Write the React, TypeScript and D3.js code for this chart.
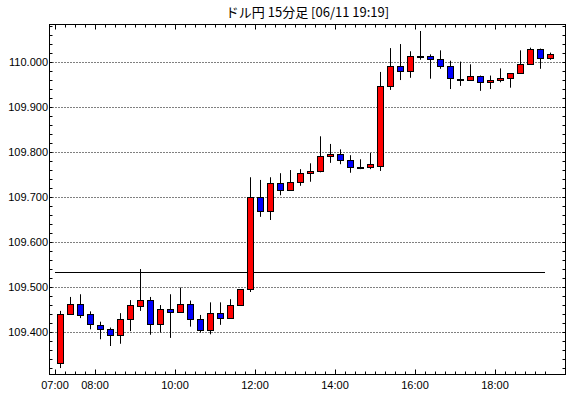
import * as d3 from 'd3';

const times = [
  '07:00', '07:15', '07:30', '07:45', '08:00', '08:15', '08:30', '08:45', '09:00', '09:15',
  '09:30', '09:45', '10:00', '10:15', '10:30', '10:45', '11:00', '11:15', '11:30', '11:45',
  '12:00', '12:15', '12:30', '12:45', '13:00', '13:15', '13:30', '13:45', '14:00', '14:15',
  '14:30', '14:45', '15:00', '15:15', '15:30', '15:45', '16:00', '16:15', '16:30', '16:45',
  '17:00', '17:15', '17:30', '17:45', '18:00', '18:15', '18:30', '18:45', '19:00', '19:15',
];

const open = [
  109.331, 109.439, 109.463, 109.439, 109.416, 109.407, 109.393, 109.429, 109.458, 109.471,
  109.418, 109.451, 109.444, 109.462, 109.429, 109.404, 109.442, 109.430, 109.460, 109.496,
  109.700, 109.668, 109.731, 109.715, 109.734, 109.754, 109.758, 109.791, 109.796, 109.782,
  109.766, 109.767, 109.770, 109.947, 109.991, 109.979, 110.014, 110.013, 110.007, 109.991,
  109.963, 109.961, 109.969, 109.956, 109.960, 109.964, 109.976, 109.996, 110.029, 110.009,
];
const high = [
  109.448, 109.479, 109.485, 109.447, 109.424, 109.411, 109.443, 109.472, 109.541, 109.479,
  109.461, 109.485, 109.500, 109.471, 109.439, 109.467, 109.467, 109.474, 109.496, 109.745,
  109.739, 109.745, 109.754, 109.761, 109.763, 109.776, 109.836, 109.819, 109.807, 109.794,
  109.785, 109.799, 109.979, 110.032, 110.041, 110.025, 110.070, 110.018, 110.027, 110.004,
  110.002, 109.996, 109.971, 109.971, 109.987, 109.976, 110.027, 110.033, 110.031, 110.022,
];
const low = [
  109.321, 109.439, 109.432, 109.407, 109.385, 109.370, 109.375, 109.403, 109.448, 109.395,
  109.400, 109.388, 109.444, 109.413, 109.400, 109.396, 109.417, 109.430, 109.460, 109.490,
  109.657, 109.650, 109.705, 109.715, 109.726, 109.735, 109.756, 109.777, 109.774, 109.755,
  109.763, 109.763, 109.759, 109.939, 109.961, 109.966, 110.006, 109.964, 109.986, 109.941,
  109.948, 109.961, 109.937, 109.941, 109.956, 109.944, 109.976, 109.996, 109.986, 110.006,
];
const close = [
  109.440, 109.463, 109.437, 109.417, 109.406, 109.393, 109.429, 109.460, 109.471, 109.418,
  109.451, 109.444, 109.462, 109.429, 109.404, 109.442, 109.430, 109.460, 109.496, 109.700,
  109.668, 109.731, 109.715, 109.734, 109.753, 109.758, 109.791, 109.796, 109.782, 109.767,
  109.766, 109.773, 109.947, 109.991, 109.979, 110.013, 110.014, 110.006, 109.991, 109.964,
  109.963, 109.969, 109.956, 109.960, 109.964, 109.976, 109.996, 110.029, 110.009, 110.018,
];

const xLabels = ['07:00', '08:00', '10:00', '12:00', '14:00', '16:00', '18:00'];
const yGridValues = [109.4, 109.5, 109.6, 109.7, 109.8, 109.9, 110.0];
const referenceLevel = 109.534;
const title = 'ドル円 15分足 [06/11 19:19]';

export default function App() {
  const width = 570;
  const height = 398;
  const left = 49.5;
  const right = 565.5;
  const top = 24.5;
  const bottom = 374.5;

  const x = d3.scaleBand<string>().domain(times).range([55, 555]).padding(0);
  const y = d3.scaleLinear().domain([109.4, 110.0]).range([332.5, 62.5]);
  const snap = (v: number) => Math.round(y(v) - 0.5) + 0.5;

  const minorY = d3.range(109.32, 110.09, 0.02).filter((v) => y(v) > top + 1 && y(v) < bottom - 1);
  const font = '"Liberation Sans", Arial, sans-serif';

  return (
    <svg
      width={width}
      height={height}
      style={{ position: 'absolute', left: 0, top: 0, background: '#fff' }}
    >
      <text
        x={(left + right) / 2}
        y={17}
        textAnchor="middle"
        fontSize={13}
        fontFamily='"Noto Sans CJK JP", sans-serif'
        fill="#000"
      >
        {title}
      </text>

      {/* dotted grid */}
      {yGridValues.map((v) => (
        <line
          key={'g' + v}
          x1={left}
          x2={right}
          y1={snap(v)}
          y2={snap(v)}
          stroke="#000"
          strokeDasharray="1,2"
        />
      ))}

      {/* y ticks, both sides */}
      {minorY.map((v) => (
        <g key={'t' + v}>
          <line x1={left} x2={left + 3} y1={snap(v)} y2={snap(v)} stroke="#000" />
          <line x1={right - 3} x2={right} y1={snap(v)} y2={snap(v)} stroke="#000" />
        </g>
      ))}

      {/* x ticks, top and bottom */}
      {times.map((t) => {
        const xx = (x(t) as number) + 0.5;
        const len = xLabels.includes(t) ? 5 : 3;
        return (
          <g key={'x' + t}>
            <line x1={xx} x2={xx} y1={bottom} y2={bottom - len} stroke="#000" />
            <line x1={xx} x2={xx} y1={top} y2={top + len} stroke="#000" />
          </g>
        );
      })}

      {/* reference line */}
      <line
        x1={x(times[0])}
        x2={x(times[times.length - 1])}
        y1={snap(referenceLevel)}
        y2={snap(referenceLevel)}
        stroke="#000"
      />

      {/* candles */}
      {times.map((t, i) => {
        const cx = (x(t) as number) + 5.5;
        const o = open[i];
        const c = close[i];
        const yTop = snap(Math.max(o, c));
        const yBot = snap(Math.min(o, c));
        const fill = c > o ? '#ff0000' : c < o ? '#0000ff' : '#000';
        return (
          <g key={'c' + t}>
            <line x1={cx} x2={cx} y1={y(high[i])} y2={y(low[i])} stroke="#000" />
            <rect
              x={cx - 3}
              y={yTop}
              width={6}
              height={Math.max(1, yBot - yTop)}
              fill={fill}
              stroke="#000"
            />
          </g>
        );
      })}

      {/* frame */}
      <rect x={left} y={top} width={right - left} height={bottom - top} fill="none" stroke="#000" />

      {/* y labels */}
      {yGridValues.map((v) => (
        <text
          key={'l' + v}
          x={48}
          y={y(v)}
          dy="0.35em"
          textAnchor="end"
          fontSize={11}
          fontFamily={font}
          fill="#000"
        >
          {v.toFixed(3)}
        </text>
      ))}

      {/* x labels */}
      {xLabels.map((t) => (
        <text
          key={'xl' + t}
          x={x(t) as number}
          y={389}
          textAnchor="middle"
          fontSize={11}
          fontFamily={font}
          fill="#000"
        >
          {t}
        </text>
      ))}
    </svg>
  );
}
